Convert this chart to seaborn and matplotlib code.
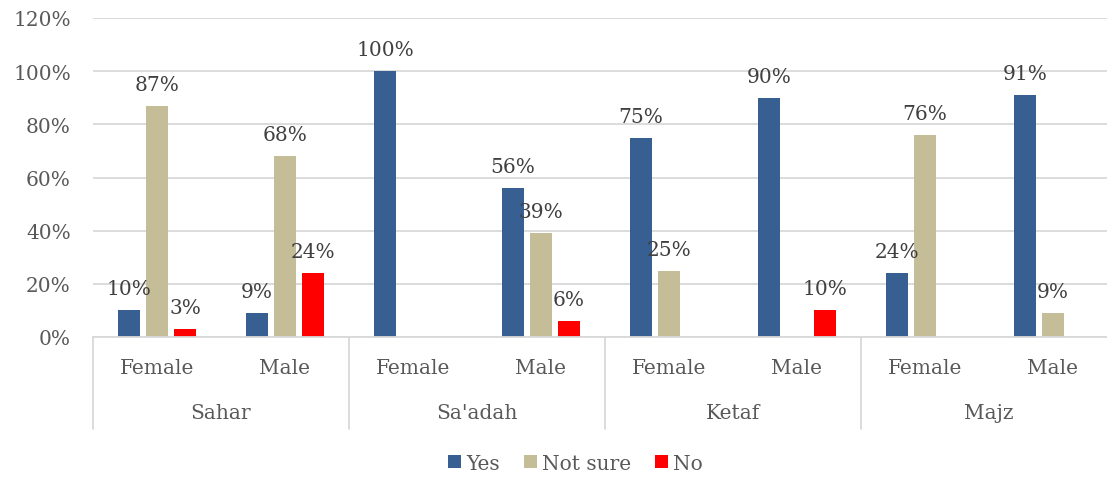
import matplotlib
matplotlib.use("Agg")
import matplotlib.pyplot as plt
import matplotlib.transforms as mtransforms
from matplotlib.patches import Patch
import pandas as pd
import seaborn as sns

# Survey responses by district and gender (percent)
districts = ["Sahar", "Sa'adah", "Ketaf", "Majz"]
genders = ["Female", "Male"]
series = ["Yes", "Not sure", "No"]
yes_vals = [10, 9, 100, 56, 75, 90, 24, 91]
not_sure_vals = [87, 68, 0, 39, 25, 0, 76, 9]
no_vals = [3, 24, 0, 6, 0, 10, 0, 0]
y_ticks = [0, 20, 40, 60, 80, 100, 120]

colors = {"Yes": "#375F92", "Not sure": "#C4BD97", "No": "#FF0000"}
text_dark = "#404040"
text_mid = "#595959"
line_gray = "#D9D9D9"
fs = 14.5

sns.set_theme(style="white")
plt.rcParams["font.family"] = ["DejaVu Serif"]

groups = [f"{d}|{g}" for d in districts for g in genders]
rows = []
for name, vals in zip(series, [yes_vals, not_sure_vals, no_vals]):
    for grp, v in zip(groups, vals):
        rows.append({"group": grp, "response": name, "value": v})
df = pd.DataFrame(rows)

fig = plt.figure(figsize=(11.07, 4.81), dpi=100)
ax = fig.add_axes([93 / 1107, (481 - 338) / 481, 1024 / 1107, 319 / 481])

sns.barplot(data=df, x="group", y="value", hue="response", order=groups,
            hue_order=series, palette=colors, width=0.656, gap=0.2,
            saturation=1, ax=ax, legend=False, errorbar=None,
            edgecolor="none")

ax.set_xlim(-0.5, len(groups) - 0.5)
ax.set_ylim(0, 120)
ax.set_yticks(y_ticks)
ax.set_yticklabels([f"{t}%" for t in y_ticks], fontsize=fs, color=text_mid)
ax.tick_params(axis="y", length=0, pad=16)
ax.set_xticks([])
ax.set_xlabel("")
ax.set_ylabel("")
ax.yaxis.grid(True, color=line_gray, linewidth=1.3)
ax.set_axisbelow(True)
for side in ["top", "right", "left"]:
    ax.spines[side].set_visible(False)
ax.spines["bottom"].set_color(line_gray)
ax.spines["bottom"].set_linewidth(1.3)

# Value labels on the non-zero bars
for container in ax.containers:
    for bar in container:
        h = bar.get_height()
        if h > 0:
            ax.annotate(f"{h:.0f}%", (bar.get_x() + bar.get_width() / 2, h),
                        xytext=(0, 16), textcoords="offset pixels",
                        ha="center", va="baseline", fontsize=fs,
                        color=text_dark)

# Two-level category axis
trans = mtransforms.blended_transform_factory(ax.transData, ax.transAxes)
for i, grp in enumerate(groups):
    ax.text(i, -0.097, grp.split("|")[1], transform=trans, ha="center",
            va="center", fontsize=fs, color=text_mid)
for j, d in enumerate(districts):
    ax.text(2 * j + 0.5, -0.238, d, transform=trans, ha="center",
            va="center", fontsize=fs, color=text_mid)
for k in range(len(districts) + 1):
    ax.plot([2 * k - 0.5, 2 * k - 0.5], [0, -0.288], transform=trans,
            color=line_gray, linewidth=1.3, clip_on=False)

handles = [Patch(facecolor=colors[s], edgecolor="none", label=s) for s in series]
leg = fig.legend(handles=handles, loc="center", bbox_to_anchor=(0.52, 0.035),
                 ncol=3, frameon=False, fontsize=fs, handlelength=0.65,
                 handleheight=0.65, handletextpad=0.25, columnspacing=1.2)
for t in leg.get_texts():
    t.set_color(text_mid)

fig.savefig("out.png", dpi=100)
